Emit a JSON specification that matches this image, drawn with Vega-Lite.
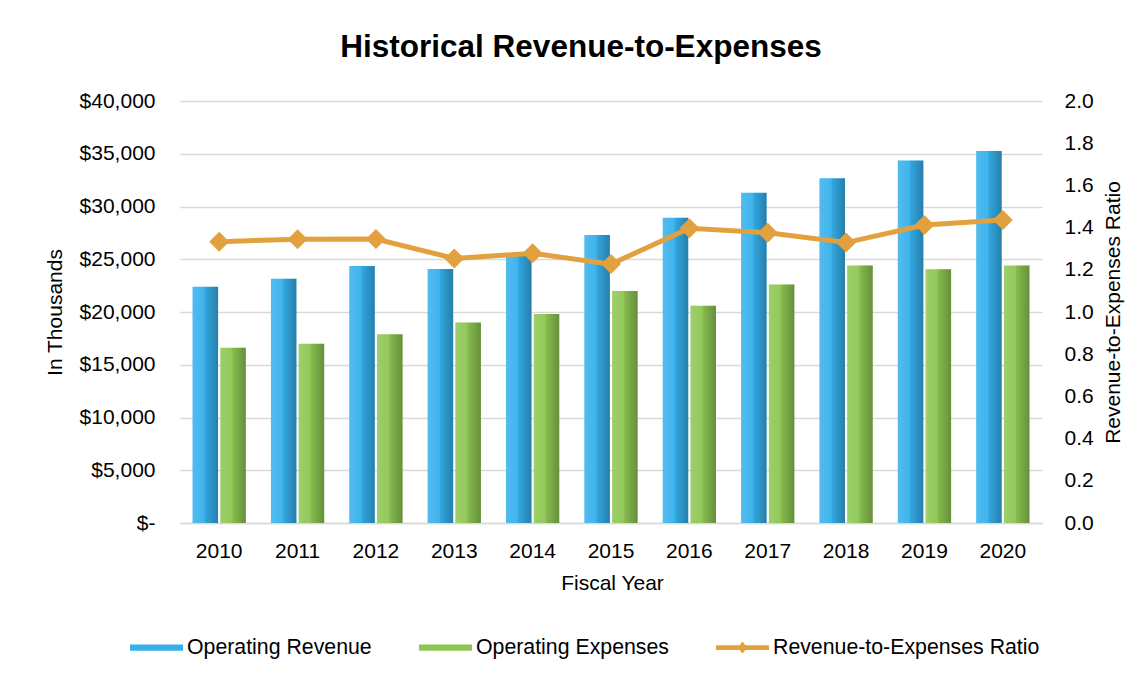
{
  "$schema": "https://vega.github.io/schema/vega-lite/v6.json",
  "width": 862,
  "height": 422,
  "autosize": {"type": "none"},
  "padding": {"left": 180, "top": 101, "right": 104, "bottom": 154},
  "background": "white",
  "config": {"font": "Liberation Sans", "view": {"stroke": null}},
  "title": {"text": "Historical Revenue-to-Expenses", "fontSize": 31.5, "fontWeight": "bold", "font": "Liberation Sans", "color": "#000000", "anchor": "middle", "baseline": "bottom", "offset": 37, "dx": -30, "dy": 42},
  "datasets": {
    "bars": [
      {"year": "2010", "series": "Operating Revenue", "value": 22400},
      {"year": "2011", "series": "Operating Revenue", "value": 23160},
      {"year": "2012", "series": "Operating Revenue", "value": 24360},
      {"year": "2013", "series": "Operating Revenue", "value": 24080},
      {"year": "2014", "series": "Operating Revenue", "value": 25300},
      {"year": "2015", "series": "Operating Revenue", "value": 27300},
      {"year": "2016", "series": "Operating Revenue", "value": 28940},
      {"year": "2017", "series": "Operating Revenue", "value": 31300},
      {"year": "2018", "series": "Operating Revenue", "value": 32670},
      {"year": "2019", "series": "Operating Revenue", "value": 34350},
      {"year": "2020", "series": "Operating Revenue", "value": 35260},
      {"year": "2010", "series": "Operating Expenses", "value": 16600},
      {"year": "2011", "series": "Operating Expenses", "value": 17000},
      {"year": "2012", "series": "Operating Expenses", "value": 17900},
      {"year": "2013", "series": "Operating Expenses", "value": 19000},
      {"year": "2014", "series": "Operating Expenses", "value": 19800},
      {"year": "2015", "series": "Operating Expenses", "value": 22000},
      {"year": "2016", "series": "Operating Expenses", "value": 20600},
      {"year": "2017", "series": "Operating Expenses", "value": 22600},
      {"year": "2018", "series": "Operating Expenses", "value": 24400},
      {"year": "2019", "series": "Operating Expenses", "value": 24050},
      {"year": "2020", "series": "Operating Expenses", "value": 24400}
    ],
    "ratio": [
      {"year": "2010", "ratio": 1.333},
      {"year": "2011", "ratio": 1.345},
      {"year": "2012", "ratio": 1.346},
      {"year": "2013", "ratio": 1.254},
      {"year": "2014", "ratio": 1.278},
      {"year": "2015", "ratio": 1.227},
      {"year": "2016", "ratio": 1.397},
      {"year": "2017", "ratio": 1.376},
      {"year": "2018", "ratio": 1.329},
      {"year": "2019", "ratio": 1.412},
      {"year": "2020", "ratio": 1.436}
    ]
  },
  "encoding": {
    "x": {
      "field": "year", "type": "nominal",
      "scale": {"paddingInner": 0.32, "paddingOuter": 0.16},
      "axis": {
        "title": "Fiscal Year", "labelAngle": 0, "labelFontSize": 21, "labelColor": "#000000", "labelPadding": 17,
        "ticks": false, "tickSize": 0, "domainColor": "#D9D9D9", "domainWidth": 1.5,
        "titleFontSize": 21, "titleFontWeight": "normal", "titleColor": "#000000",
        "titleX": 432, "titleY": 66, "titleBaseline": "alphabetic", "titleAlign": "center"
      }
    }
  },
  "layer": [
    {
      "data": {"name": "bars"},
      "layer": [
        {
          "mark": {"type": "bar"},
          "encoding": {
            "xOffset": {"field": "series", "type": "nominal", "sort": ["Operating Revenue", "Operating Expenses"], "scale": {"paddingInner": 0.08, "paddingOuter": 0}},
            "y": {
              "field": "value", "type": "quantitative", "stack": null,
              "scale": {"domain": [0, 40000], "nice": false},
              "axis": {
                "title": "In Thousands", "values": [0, 5000, 10000, 15000, 20000, 25000, 30000, 35000, 40000],
                "labelExpr": "datum.value === 0 ? '$-' : '$' + format(datum.value, ',')",
                "labelFontSize": 21, "labelColor": "#000000", "labelPadding": 25,
                "ticks": false, "tickSize": 0, "domain": false,
                "grid": true, "gridColor": "#D9D9D9", "gridWidth": 1.5,
                "titleFontSize": 21, "titleFontWeight": "normal", "titleColor": "#000000",
                "titleAngle": 270, "titleX": -125, "titleY": 211, "titleBaseline": "middle", "titleAlign": "center"
              }
            },
            "color": {
              "field": "series", "type": "nominal",
              "scale": {"domain": ["Operating Revenue", "Operating Expenses", "Revenue-to-Expenses Ratio"], "range": ["#35B0EC", "#8DC652", "#E3A03E"]},
              "legend": {
                "title": null, "orient": "none", "legendX": -50, "legendY": 520, "direction": "horizontal", "columns": 3,
                "columnPadding": 47, "padding": 0, "labelFontSize": 21.3, "labelColor": "#000000", "labelOffset": 4, "labelLimit": 400,
                "symbolSize": 2809, "symbolType": "M-1,-0.12H1V0.12H-1Z",
                "encode": {
                  "symbols": {
                    "update": {
                      "shape": {"signal": "datum.value === 'Revenue-to-Expenses Ratio' ? 'M-1,-0.09H1V0.09H-1Z M-0.17,0L0,-0.23L0.17,0L0,0.23Z' : 'M-1,-0.12H1V0.12H-1Z'"},
                      "fill": {"scale": "color", "field": "value"},
                      "stroke": {"value": "transparent"},
                      "strokeWidth": {"value": 0},
                      "opacity": {"value": 1},
                      "fillOpacity": {"value": 1}
                    }
                  }
                }
              }
            }
          }
        },
        {
          "mark": {"type": "bar", "color": {"gradient": "linear", "x1": 0, "y1": 0, "x2": 1, "y2": 0, "stops": [
            {"offset": 0, "color": "rgba(255,255,255,0.15)"},
            {"offset": 0.45, "color": "rgba(255,255,255,0.05)"},
            {"offset": 0.5, "color": "rgba(0,0,0,0.06)"},
            {"offset": 1, "color": "rgba(0,0,0,0.28)"}
          ]}},
          "encoding": {
            "xOffset": {"field": "series", "type": "nominal", "sort": ["Operating Revenue", "Operating Expenses"]},
            "y": {"field": "value", "type": "quantitative", "stack": null}
          }
        }
      ]
    },
    {
      "data": {"name": "ratio"},
      "mark": {"type": "line", "strokeWidth": 5, "point": {"shape": "diamond", "size": 400, "filled": true, "opacity": 1}},
      "encoding": {
        "y": {
          "field": "ratio", "type": "quantitative",
          "scale": {"domain": [0, 2], "nice": false},
          "axis": {
            "orient": "right", "title": "Revenue-to-Expenses Ratio", "values": [0, 0.2, 0.4, 0.6, 0.8, 1.0, 1.2, 1.4, 1.6, 1.8, 2.0], "format": ".1f",
            "labelFontSize": 21, "labelColor": "#000000", "labelPadding": 22,
            "ticks": false, "tickSize": 0, "domain": false, "grid": false,
            "titleFontSize": 21, "titleFontWeight": "normal", "titleColor": "#000000",
            "titleAngle": 270, "titleX": 71, "titleY": 211, "titleBaseline": "middle", "titleAlign": "center"
          }
        },
        "color": {"datum": "Revenue-to-Expenses Ratio"}
      }
    }
  ],
  "resolve": {"scale": {"y": "independent"}}
}
